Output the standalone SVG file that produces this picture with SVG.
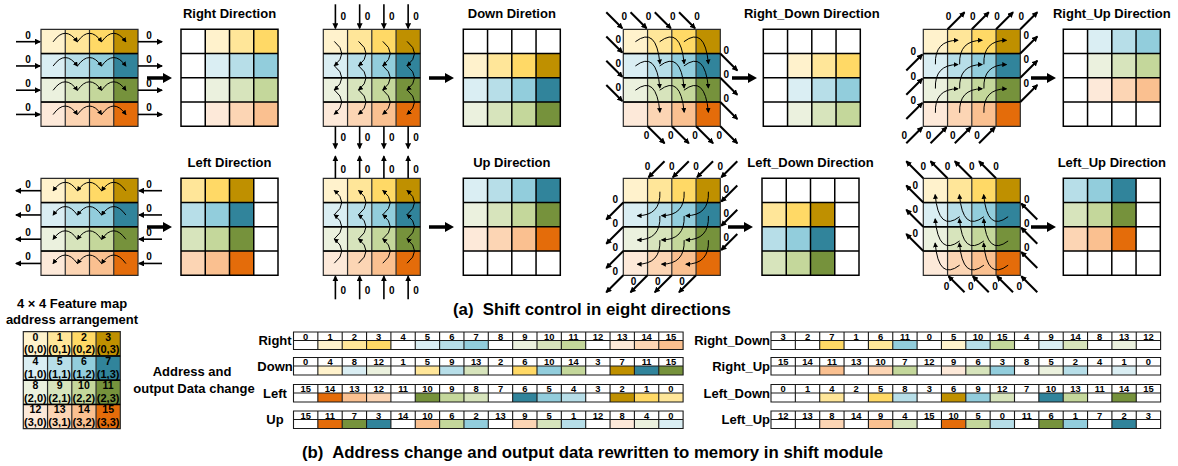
<svg xmlns="http://www.w3.org/2000/svg" width="1178" height="466" viewBox="0 0 1178 466">
<style>
text{font-family:"Liberation Sans",Arial,Helvetica,sans-serif;font-weight:bold;fill:#000}
.ttl{font-size:13px;text-anchor:middle}
.z{font-size:10px;text-anchor:middle}
.cap{font-size:16.8px;white-space:pre}
.tn{font-size:9.4px;text-anchor:middle}
.lb{font-size:13px;text-anchor:middle}
.lbr{font-size:13px;text-anchor:end}
.fn{font-size:10.5px;text-anchor:middle}
.fc{font-size:11px;text-anchor:middle}
.y0{fill:#FFF2CC}.y1{fill:#FFE699}.y2{fill:#FFD966}.y3{fill:#BF9000}
.b0{fill:#DAEEF3}.b1{fill:#B7DEE8}.b2{fill:#92CDDC}.b3{fill:#31849B}
.g0{fill:#EBF1DE}.g1{fill:#D7E4BC}.g2{fill:#C4D79B}.g3{fill:#76923C}
.o0{fill:#FDE9D9}.o1{fill:#FCD5B4}.o2{fill:#FAC090}.o3{fill:#E46C0A}
.gi{fill:none;stroke:#2b2b2b;stroke-width:1.2}
.gr{fill:none;stroke:#000;stroke-width:1.6}
.go{fill:none;stroke:#000;stroke-width:1.5}
.tf{fill:none;stroke:#1a1a1a;stroke-width:1.1}
.arc{fill:none;stroke:#000;stroke-width:1;marker-end:url(#ma)}
.ln{fill:none;stroke:#000;stroke-width:1.6;marker-end:url(#mb)}
.dl{fill:none;stroke:#000;stroke-width:2;marker-end:url(#mb)}
</style>
<defs>
<marker id="ma" viewBox="0 0 6 6" refX="5" refY="3" markerWidth="5" markerHeight="5" markerUnits="userSpaceOnUse" orient="auto"><path d="M0 0L6 3L0 6z"/></marker>
<marker id="mb" viewBox="0 0 6 6" refX="5" refY="3" markerWidth="6" markerHeight="6" markerUnits="userSpaceOnUse" orient="auto"><path d="M0 0L6 3L0 6z"/></marker>
<rect id="u" width="24.25" height="24.25"/>
<rect id="tu" width="24.35" height="9"/>
<path id="gl" d="M0 0H97V97H0Z M24.25 0V97 M48.5 0V97 M72.75 0V97 M0 24.25H97 M0 48.5H97 M0 72.75H97"/>
<path id="rl" d="M0 24.25H97 M0 48.5H97 M0 72.75H97"/>
<path id="tf" d="M0 0H389.6V17.5H0Z M0 8.5H389.6 M24.35 0V17.5 M48.7 0V17.5 M73.05 0V17.5 M97.4 0V17.5 M121.75 0V17.5 M146.1 0V17.5 M170.45 0V17.5 M194.8 0V17.5 M219.15 0V17.5 M243.5 0V17.5 M267.85 0V17.5 M292.2 0V17.5 M316.55 0V17.5 M340.9 0V17.5 M365.25 0V17.5"/>
<g id="gin">
<use href="#u" class="y0"/><use href="#u" class="y1" x="24.25"/><use href="#u" class="y2" x="48.5"/><use href="#u" class="y3" x="72.75"/>
<use href="#u" class="b0" y="24.25"/><use href="#u" class="b1" x="24.25" y="24.25"/><use href="#u" class="b2" x="48.5" y="24.25"/><use href="#u" class="b3" x="72.75" y="24.25"/>
<use href="#u" class="g0" y="48.5"/><use href="#u" class="g1" x="24.25" y="48.5"/><use href="#u" class="g2" x="48.5" y="48.5"/><use href="#u" class="g3" x="72.75" y="48.5"/>
<use href="#u" class="o0" y="72.75"/><use href="#u" class="o1" x="24.25" y="72.75"/><use href="#u" class="o2" x="48.5" y="72.75"/><use href="#u" class="o3" x="72.75" y="72.75"/>
<use href="#gl" class="gi"/>
<use href="#rl" class="gr"/>
</g>
<g id="aR"><path d="M12.1 0Q24.2 -17 36.4 0"/><path d="M36.4 0Q48.5 -17 60.6 0"/><path d="M60.6 0Q72.7 -17 84.9 0"/></g>
<g id="aL"><path d="M36.4 0Q24.2 -17 12.1 0"/><path d="M60.6 0Q48.5 -17 36.4 0"/><path d="M84.9 0Q72.7 -17 60.6 0"/></g>
<g id="aD"><path d="M0 12.1Q15 24.2 0 36.4"/><path d="M0 36.4Q15 48.5 0 60.6"/><path d="M0 60.6Q15 72.7 0 84.9"/></g>
<g id="aU"><path d="M0 36.4Q15 24.2 0 12.1"/><path d="M0 60.6Q15 48.5 0 36.4"/><path d="M0 84.9Q15 72.7 0 60.6"/></g>
<path id="dRD" d="M0 0Q21 -16 24.5 22"/>
<path id="dRU" d="M0 0Q-1 -24 22.5 -24"/>
<path id="dLD" d="M0 0Q1 24 -22.5 24"/>
<path id="dLU" d="M0 0Q-21 16 -24.5 -22"/>
<path id="big" d="M0 -1.7H16V-5L25 0L16 5V1.7H0Z"/>
</defs>
<rect width="1178" height="466" fill="#fff"/>

<!-- input grids -->
<g id="in-right" transform="translate(41,29.3)"><use href="#gin"/></g>
<g id="in-down" transform="translate(323.3,29.3)"><use href="#gin"/></g>
<g id="in-right-down" transform="translate(623.3,29.3)"><use href="#gin"/></g>
<g id="in-right-up" transform="translate(923.3,29.3)"><use href="#gin"/></g>
<g id="in-left" transform="translate(41,178.3)"><use href="#gin"/></g>
<g id="in-up" transform="translate(323.3,178.3)"><use href="#gin"/></g>
<g id="in-left-down" transform="translate(623.3,178.3)"><use href="#gin"/></g>
<g id="in-left-up" transform="translate(923.3,178.3)"><use href="#gin"/></g>

<!-- output grids -->
<g id="out-right" transform="translate(181,29.3)">
<text class="ttl" x="48.5" y="-11.8">Right Direction</text>
<rect width="97" height="97" fill="#fff"/>
<use href="#u" class="y0" x="24.25"/><use href="#u" class="y1" x="48.5"/><use href="#u" class="y2" x="72.75"/>
<use href="#u" class="b0" x="24.25" y="24.25"/><use href="#u" class="b1" x="48.5" y="24.25"/><use href="#u" class="b2" x="72.75" y="24.25"/>
<use href="#u" class="g0" x="24.25" y="48.5"/><use href="#u" class="g1" x="48.5" y="48.5"/><use href="#u" class="g2" x="72.75" y="48.5"/>
<use href="#u" class="o0" x="24.25" y="72.75"/><use href="#u" class="o1" x="48.5" y="72.75"/><use href="#u" class="o2" x="72.75" y="72.75"/>
<use href="#gl" class="go"/>
</g>
<g id="out-down" transform="translate(463.3,29.3)">
<text class="ttl" x="48.5" y="-11.8">Down Diretion</text>
<rect width="97" height="97" fill="#fff"/>
<use href="#u" class="y0" y="24.25"/><use href="#u" class="y1" x="24.25" y="24.25"/><use href="#u" class="y2" x="48.5" y="24.25"/><use href="#u" class="y3" x="72.75" y="24.25"/>
<use href="#u" class="b0" y="48.5"/><use href="#u" class="b1" x="24.25" y="48.5"/><use href="#u" class="b2" x="48.5" y="48.5"/><use href="#u" class="b3" x="72.75" y="48.5"/>
<use href="#u" class="g0" y="72.75"/><use href="#u" class="g1" x="24.25" y="72.75"/><use href="#u" class="g2" x="48.5" y="72.75"/><use href="#u" class="g3" x="72.75" y="72.75"/>
<use href="#gl" class="go"/>
</g>
<g id="out-right-down" transform="translate(763.3,29.3)">
<text class="ttl" x="48.5" y="-11.8">Right_Down Direction</text>
<rect width="97" height="97" fill="#fff"/>
<use href="#u" class="y0" x="24.25" y="24.25"/><use href="#u" class="y1" x="48.5" y="24.25"/><use href="#u" class="y2" x="72.75" y="24.25"/>
<use href="#u" class="b0" x="24.25" y="48.5"/><use href="#u" class="b1" x="48.5" y="48.5"/><use href="#u" class="b2" x="72.75" y="48.5"/>
<use href="#u" class="g0" x="24.25" y="72.75"/><use href="#u" class="g1" x="48.5" y="72.75"/><use href="#u" class="g2" x="72.75" y="72.75"/>
<use href="#gl" class="go"/>
</g>
<g id="out-right-up" transform="translate(1063.3,29.3)">
<text class="ttl" x="48.5" y="-11.8">Right_Up Direction</text>
<rect width="97" height="97" fill="#fff"/>
<use href="#u" class="b0" x="24.25"/><use href="#u" class="b1" x="48.5"/><use href="#u" class="b2" x="72.75"/>
<use href="#u" class="g0" x="24.25" y="24.25"/><use href="#u" class="g1" x="48.5" y="24.25"/><use href="#u" class="g2" x="72.75" y="24.25"/>
<use href="#u" class="o0" x="24.25" y="48.5"/><use href="#u" class="o1" x="48.5" y="48.5"/><use href="#u" class="o2" x="72.75" y="48.5"/>
<use href="#gl" class="go"/>
</g>
<g id="out-left" transform="translate(181,178.3)">
<text class="ttl" x="48.5" y="-11">Left Direction</text>
<rect width="97" height="97" fill="#fff"/>
<use href="#u" class="y1"/><use href="#u" class="y2" x="24.25"/><use href="#u" class="y3" x="48.5"/>
<use href="#u" class="b1" y="24.25"/><use href="#u" class="b2" x="24.25" y="24.25"/><use href="#u" class="b3" x="48.5" y="24.25"/>
<use href="#u" class="g1" y="48.5"/><use href="#u" class="g2" x="24.25" y="48.5"/><use href="#u" class="g3" x="48.5" y="48.5"/>
<use href="#u" class="o1" y="72.75"/><use href="#u" class="o2" x="24.25" y="72.75"/><use href="#u" class="o3" x="48.5" y="72.75"/>
<use href="#gl" class="go"/>
</g>
<g id="out-up" transform="translate(463.3,178.3)">
<text class="ttl" x="48.5" y="-11">Up Direction</text>
<rect width="97" height="97" fill="#fff"/>
<use href="#u" class="b0"/><use href="#u" class="b1" x="24.25"/><use href="#u" class="b2" x="48.5"/><use href="#u" class="b3" x="72.75"/>
<use href="#u" class="g0" y="24.25"/><use href="#u" class="g1" x="24.25" y="24.25"/><use href="#u" class="g2" x="48.5" y="24.25"/><use href="#u" class="g3" x="72.75" y="24.25"/>
<use href="#u" class="o0" y="48.5"/><use href="#u" class="o1" x="24.25" y="48.5"/><use href="#u" class="o2" x="48.5" y="48.5"/><use href="#u" class="o3" x="72.75" y="48.5"/>
<use href="#gl" class="go"/>
</g>
<g id="out-left-down" transform="translate(762,178.3)">
<text class="ttl" x="48.5" y="-11">Left_Down Direction</text>
<rect width="97" height="97" fill="#fff"/>
<use href="#u" class="y1" y="24.25"/><use href="#u" class="y2" x="24.25" y="24.25"/><use href="#u" class="y3" x="48.5" y="24.25"/>
<use href="#u" class="b1" y="48.5"/><use href="#u" class="b2" x="24.25" y="48.5"/><use href="#u" class="b3" x="48.5" y="48.5"/>
<use href="#u" class="g1" y="72.75"/><use href="#u" class="g2" x="24.25" y="72.75"/><use href="#u" class="g3" x="48.5" y="72.75"/>
<use href="#gl" class="go"/>
</g>
<g id="out-left-up" transform="translate(1063.3,178.3)">
<text class="ttl" x="48.5" y="-11">Left_Up Direction</text>
<rect width="97" height="97" fill="#fff"/>
<use href="#u" class="b1"/><use href="#u" class="b2" x="24.25"/><use href="#u" class="b3" x="48.5"/>
<use href="#u" class="g1" y="24.25"/><use href="#u" class="g2" x="24.25" y="24.25"/><use href="#u" class="g3" x="48.5" y="24.25"/>
<use href="#u" class="o1" y="48.5"/><use href="#u" class="o2" x="24.25" y="48.5"/><use href="#u" class="o3" x="48.5" y="48.5"/>
<use href="#gl" class="go"/>
</g>

<!-- connectors -->
<g id="connectors">
<g transform="translate(41,29.3)">
<g class="arc"><use href="#aR" y="12.5"/><use href="#aR" y="36.75"/><use href="#aR" y="61"/><use href="#aR" y="85.25"/></g>
<g class="ln"><path d="M-25 12.4H-1"/><path d="M-25 36.65H-1"/><path d="M-25 60.9H-1"/><path d="M-25 85.15H-1"/><path d="M97 12.4H121"/><path d="M97 36.65H121"/><path d="M97 60.9H121"/><path d="M97 85.15H121"/></g>
<text class="z"><tspan x="-13" y="9.4">0</tspan><tspan x="-13" y="33.65">0</tspan><tspan x="-13" y="57.9">0</tspan><tspan x="-13" y="82.15">0</tspan><tspan x="108" y="9.4">0</tspan><tspan x="108" y="33.65">0</tspan><tspan x="108" y="57.9">0</tspan><tspan x="108" y="82.15">0</tspan></text>
</g>
<g transform="translate(41,178.3)">
<g class="arc"><use href="#aL" y="12.5"/><use href="#aL" y="36.75"/><use href="#aL" y="61"/><use href="#aL" y="85.25"/></g>
<g class="ln"><path d="M121 12.4H98"/><path d="M121 36.65H98"/><path d="M121 60.9H98"/><path d="M121 85.15H98"/><path d="M0 12.4H-25"/><path d="M0 36.65H-25"/><path d="M0 60.9H-25"/><path d="M0 85.15H-25"/></g>
<text class="z"><tspan x="-13" y="9.4">0</tspan><tspan x="-13" y="33.65">0</tspan><tspan x="-13" y="57.9">0</tspan><tspan x="-13" y="82.15">0</tspan><tspan x="108" y="9.4">0</tspan><tspan x="108" y="33.65">0</tspan><tspan x="108" y="57.9">0</tspan><tspan x="108" y="82.15">0</tspan></text>
</g>
<g transform="translate(323.3,29.3)">
<g class="arc"><use href="#aD" x="11"/><use href="#aD" x="35.25"/><use href="#aD" x="59.5"/><use href="#aD" x="83.75"/></g>
<g class="ln"><path d="M12.1 -25V-1"/><path d="M36.35 -25V-1"/><path d="M60.6 -25V-1"/><path d="M84.85 -25V-1"/><path d="M12.1 97V119"/><path d="M36.35 97V119"/><path d="M60.6 97V119"/><path d="M84.85 97V119"/></g>
<text class="z"><tspan x="20.1" y="-9.5">0</tspan><tspan x="44.35" y="-9.5">0</tspan><tspan x="68.6" y="-9.5">0</tspan><tspan x="92.85" y="-9.5">0</tspan><tspan x="20.1" y="111.5">0</tspan><tspan x="44.35" y="111.5">0</tspan><tspan x="68.6" y="111.5">0</tspan><tspan x="92.85" y="111.5">0</tspan></text>
</g>
<g transform="translate(323.3,178.3)">
<g class="arc"><use href="#aU" x="11"/><use href="#aU" x="35.25"/><use href="#aU" x="59.5"/><use href="#aU" x="83.75"/></g>
<g class="ln"><path d="M12.1 0V-22"/><path d="M36.35 0V-22"/><path d="M60.6 0V-22"/><path d="M84.85 0V-22"/><path d="M12.1 121V98"/><path d="M36.35 121V98"/><path d="M60.6 121V98"/><path d="M84.85 121V98"/></g>
<text class="z"><tspan x="20.1" y="-5.5">0</tspan><tspan x="44.35" y="-5.5">0</tspan><tspan x="68.6" y="-5.5">0</tspan><tspan x="92.85" y="-5.5">0</tspan><tspan x="20.1" y="115.5">0</tspan><tspan x="44.35" y="115.5">0</tspan><tspan x="68.6" y="115.5">0</tspan><tspan x="92.85" y="115.5">0</tspan></text>
</g>
<g transform="translate(623.3,29.3)">
<g class="arc"><use href="#dRD" x="12.1" y="12.4"/><use href="#dRD" x="36.35" y="12.4"/><use href="#dRD" x="60.6" y="12.4"/><use href="#dRD" x="12.1" y="36.65"/><use href="#dRD" x="36.35" y="36.65"/><use href="#dRD" x="60.6" y="36.65"/><use href="#dRD" x="12.1" y="60.9"/><use href="#dRD" x="36.35" y="60.9"/><use href="#dRD" x="60.6" y="60.9"/></g>
<g class="dl"><path d="M-17 -17L-1 -1"/><path d="M7.25 -17L23.25 -1"/><path d="M31.5 -17L47.5 -1"/><path d="M55.75 -17L71.75 -1"/><path d="M-17 7.25L-1 23.25"/><path d="M-17 31.5L-1 47.5"/><path d="M-17 55.75L-1 71.75"/><path d="M97 24.25L114 41.25"/><path d="M97 48.5L114 65.5"/><path d="M97 72.75L114 89.75"/><path d="M24.25 97L41.25 114"/><path d="M48.5 97L65.5 114"/><path d="M72.75 97L89.75 114"/><path d="M97 97L114 114"/></g>
<text class="z"><tspan x="1" y="-9.5">0</tspan><tspan x="25.25" y="-9.5">0</tspan><tspan x="49.5" y="-9.5">0</tspan><tspan x="73.75" y="-9.5">0</tspan><tspan x="-5" y="13.25">0</tspan><tspan x="-5" y="37.5">0</tspan><tspan x="-5" y="61.75">0</tspan><tspan x="103" y="24.5">0</tspan><tspan x="103" y="48.75">0</tspan><tspan x="103" y="73">0</tspan><tspan x="23.25" y="109.5">0</tspan><tspan x="47.5" y="109.5">0</tspan><tspan x="71.75" y="109.5">0</tspan><tspan x="96" y="109.5">0</tspan></text>
</g>
<g transform="translate(923.3,29.3)">
<g class="arc"><use href="#dRU" x="12.1" y="35"/><use href="#dRU" x="36.35" y="35"/><use href="#dRU" x="60.6" y="35"/><use href="#dRU" x="12.1" y="59.25"/><use href="#dRU" x="36.35" y="59.25"/><use href="#dRU" x="60.6" y="59.25"/><use href="#dRU" x="12.1" y="83.5"/><use href="#dRU" x="36.35" y="83.5"/><use href="#dRU" x="60.6" y="83.5"/></g>
<g class="dl"><path d="M-17 114L-1 98"/><path d="M7.25 114L23.25 98"/><path d="M31.5 114L47.5 98"/><path d="M55.75 114L71.75 98"/><path d="M-17 41.25L-1 25.25"/><path d="M-17 65.5L-1 49.5"/><path d="M-17 89.75L-1 73.75"/><path d="M24.25 0L41.25 -17"/><path d="M48.5 0L65.5 -17"/><path d="M72.75 0L89.75 -17"/><path d="M97 0L114 -17"/><path d="M97 24.25L114 7.25"/><path d="M97 48.5L114 31.5"/><path d="M97 72.75L114 55.75"/></g>
<text class="z"><tspan x="-19" y="109.5">0</tspan><tspan x="5.25" y="109.5">0</tspan><tspan x="29.5" y="109.5">0</tspan><tspan x="53.75" y="109.5">0</tspan><tspan x="-10" y="26">0</tspan><tspan x="-10" y="50.25">0</tspan><tspan x="-10" y="74.5">0</tspan><tspan x="25.25" y="-9.5">0</tspan><tspan x="49.5" y="-9.5">0</tspan><tspan x="73.75" y="-9.5">0</tspan><tspan x="98" y="-9.5">0</tspan><tspan x="103" y="9.25">0</tspan><tspan x="103" y="33.5">0</tspan><tspan x="103" y="57.75">0</tspan></text>
</g>
<g transform="translate(623.3,178.3)">
<g class="arc"><use href="#dLD" x="36.6" y="13.4"/><use href="#dLD" x="60.85" y="13.4"/><use href="#dLD" x="85.1" y="13.4"/><use href="#dLD" x="36.6" y="37.65"/><use href="#dLD" x="60.85" y="37.65"/><use href="#dLD" x="85.1" y="37.65"/><use href="#dLD" x="36.6" y="61.9"/><use href="#dLD" x="60.85" y="61.9"/><use href="#dLD" x="85.1" y="61.9"/></g>
<g class="dl"><path d="M41.25 -17L25.25 -1"/><path d="M65.5 -17L49.5 -1"/><path d="M89.75 -17L73.75 -1"/><path d="M114 -17L98 -1"/><path d="M114 7.25L98 23.25"/><path d="M114 31.5L98 47.5"/><path d="M114 55.75L98 71.75"/><path d="M0 24.25L-17 41.25"/><path d="M0 48.5L-17 65.5"/><path d="M0 72.75L-17 89.75"/><path d="M0 97L-17 114"/><path d="M24.25 97L7.25 114"/><path d="M48.5 97L31.5 114"/><path d="M72.75 97L55.75 114"/></g>
<text class="z"><tspan x="24.25" y="-8">0</tspan><tspan x="48.5" y="-8">0</tspan><tspan x="72.75" y="-8">0</tspan><tspan x="97" y="-8">0</tspan><tspan x="103" y="14.25">0</tspan><tspan x="103" y="38.5">0</tspan><tspan x="103" y="62.75">0</tspan><tspan x="-8" y="24.25">0</tspan><tspan x="-8" y="48.5">0</tspan><tspan x="-8" y="72.75">0</tspan><tspan x="-8" y="97">0</tspan><tspan x="10.25" y="107">0</tspan><tspan x="34.5" y="107">0</tspan><tspan x="58.75" y="107">0</tspan></text>
</g>
<g transform="translate(923.3,178.3)">
<g class="arc"><use href="#dLU" x="36.35" y="38.4"/><use href="#dLU" x="60.6" y="38.4"/><use href="#dLU" x="84.85" y="38.4"/><use href="#dLU" x="36.35" y="62.65"/><use href="#dLU" x="60.6" y="62.65"/><use href="#dLU" x="84.85" y="62.65"/><use href="#dLU" x="36.35" y="86.9"/><use href="#dLU" x="60.6" y="86.9"/><use href="#dLU" x="84.85" y="86.9"/></g>
<g class="dl"><path d="M41.25 114L25.25 98"/><path d="M65.5 114L49.5 98"/><path d="M89.75 114L73.75 98"/><path d="M114 114L98 98"/><path d="M114 41.25L98 25.25"/><path d="M114 65.5L98 49.5"/><path d="M114 89.75L98 73.75"/><path d="M0 0L-17 -17"/><path d="M24.25 0L7.25 -17"/><path d="M48.5 0L31.5 -17"/><path d="M72.75 0L55.75 -17"/><path d="M0 24.25L-17 7.25"/><path d="M0 48.5L-17 31.5"/><path d="M0 72.75L-17 55.75"/></g>
<text class="z"><tspan x="23.25" y="112">0</tspan><tspan x="47.5" y="112">0</tspan><tspan x="71.75" y="112">0</tspan><tspan x="96" y="112">0</tspan><tspan x="103.4" y="24.25">0</tspan><tspan x="103.4" y="48.5">0</tspan><tspan x="103.4" y="72.75">0</tspan><tspan x="0" y="-8">0</tspan><tspan x="24.25" y="-8">0</tspan><tspan x="48.5" y="-8">0</tspan><tspan x="72.75" y="-8">0</tspan><tspan x="-8" y="10.25">0</tspan><tspan x="-8" y="34.5">0</tspan><tspan x="-8" y="58.75">0</tspan></text>
</g>
<use href="#big" x="147" y="78"/><use href="#big" x="429" y="78"/><use href="#big" x="732" y="78"/><use href="#big" x="1031" y="78"/>
<use href="#big" x="147" y="227"/><use href="#big" x="429" y="227"/><use href="#big" x="728" y="227"/><use href="#big" x="1031" y="227"/>
</g>

<text id="caption-a" class="cap" x="453" y="315">(a)  Shift control in eight directions</text>

<!-- feature map -->
<g id="feature-map">
<text class="lb" x="72" y="308">4 × 4 Feature map</text>
<text class="lb" x="72" y="324">address arrangement</text>
<g transform="translate(23.3,331.7)">
<use href="#gin"/>
<text class="fn"><tspan x="12.1" y="9">0</tspan><tspan x="36.35" y="9">1</tspan><tspan x="60.6" y="9">2</tspan><tspan x="84.85" y="9">3</tspan><tspan x="12.1" y="33.25">4</tspan><tspan x="36.35" y="33.25">5</tspan><tspan x="60.6" y="33.25">6</tspan><tspan x="84.85" y="33.25">7</tspan><tspan x="12.1" y="57.5">8</tspan><tspan x="36.35" y="57.5">9</tspan><tspan x="60.6" y="57.5">10</tspan><tspan x="84.85" y="57.5">11</tspan><tspan x="12.1" y="81.75">12</tspan><tspan x="36.35" y="81.75">13</tspan><tspan x="60.6" y="81.75">14</tspan><tspan x="84.85" y="81.75">15</tspan></text>
<text class="fc"><tspan x="12.1" y="21.8">(0,0)</tspan><tspan x="36.35" y="21.8">(0,1)</tspan><tspan x="60.6" y="21.8">(0,2)</tspan><tspan x="84.85" y="21.8">(0,3)</tspan><tspan x="12.1" y="46.05">(1,0)</tspan><tspan x="36.35" y="46.05">(1,1)</tspan><tspan x="60.6" y="46.05">(1,2)</tspan><tspan x="84.85" y="46.05">(1,3)</tspan><tspan x="12.1" y="70.3">(2,0)</tspan><tspan x="36.35" y="70.3">(2,1)</tspan><tspan x="60.6" y="70.3">(2,2)</tspan><tspan x="84.85" y="70.3">(2,3)</tspan><tspan x="12.1" y="94.55">(3,0)</tspan><tspan x="36.35" y="94.55">(3,1)</tspan><tspan x="60.6" y="94.55">(3,2)</tspan><tspan x="84.85" y="94.55">(3,3)</tspan></text>
</g>
</g>

<g id="address-label">
<text class="lb" x="192" y="376">Address and</text>
<text class="lb" x="194" y="393">output Data change</text>
</g>

<!-- tables -->
<g id="tbl-right">
<text class="lb" x="275" y="345.4">Right</text>
<g transform="translate(293.5,332)">
<rect width="389.6" height="17.5" fill="#fff"/>
<use href="#tu" class="y0" x="24.35" y="8.5"/><use href="#tu" class="y1" x="48.7" y="8.5"/><use href="#tu" class="y2" x="73.05" y="8.5"/><use href="#tu" class="b0" x="121.75" y="8.5"/><use href="#tu" class="b1" x="146.1" y="8.5"/><use href="#tu" class="b2" x="170.45" y="8.5"/><use href="#tu" class="g0" x="219.15" y="8.5"/><use href="#tu" class="g1" x="243.5" y="8.5"/><use href="#tu" class="g2" x="267.85" y="8.5"/><use href="#tu" class="o0" x="316.55" y="8.5"/><use href="#tu" class="o1" x="340.9" y="8.5"/><use href="#tu" class="o2" x="365.25" y="8.5"/>
<use href="#tf" class="tf"/>
<text class="tn" y="7.7"><tspan x="12.2">0</tspan><tspan x="36.5">1</tspan><tspan x="60.9">2</tspan><tspan x="85.2">3</tspan><tspan x="109.6">4</tspan><tspan x="133.9">5</tspan><tspan x="158.3">6</tspan><tspan x="182.6">7</tspan><tspan x="207">8</tspan><tspan x="231.3">9</tspan><tspan x="255.7">10</tspan><tspan x="280">11</tspan><tspan x="304.4">12</tspan><tspan x="328.7">13</tspan><tspan x="353.1">14</tspan><tspan x="377.4">15</tspan></text>
</g>
</g>
<g id="tbl-down">
<text class="lb" x="275" y="370.9">Down</text>
<g transform="translate(293.5,357.5)">
<rect width="389.6" height="17.5" fill="#fff"/>
<use href="#tu" class="y0" x="24.35" y="8.5"/><use href="#tu" class="b0" x="48.7" y="8.5"/><use href="#tu" class="g0" x="73.05" y="8.5"/><use href="#tu" class="y1" x="121.75" y="8.5"/><use href="#tu" class="b1" x="146.1" y="8.5"/><use href="#tu" class="g1" x="170.45" y="8.5"/><use href="#tu" class="y2" x="219.15" y="8.5"/><use href="#tu" class="b2" x="243.5" y="8.5"/><use href="#tu" class="g2" x="267.85" y="8.5"/><use href="#tu" class="y3" x="316.55" y="8.5"/><use href="#tu" class="b3" x="340.9" y="8.5"/><use href="#tu" class="g3" x="365.25" y="8.5"/>
<use href="#tf" class="tf"/>
<text class="tn" y="7.7"><tspan x="12.2">0</tspan><tspan x="36.5">4</tspan><tspan x="60.9">8</tspan><tspan x="85.2">12</tspan><tspan x="109.6">1</tspan><tspan x="133.9">5</tspan><tspan x="158.3">9</tspan><tspan x="182.6">13</tspan><tspan x="207">2</tspan><tspan x="231.3">6</tspan><tspan x="255.7">10</tspan><tspan x="280">14</tspan><tspan x="304.4">3</tspan><tspan x="328.7">7</tspan><tspan x="353.1">11</tspan><tspan x="377.4">15</tspan></text>
</g>
</g>
<g id="tbl-left">
<text class="lb" x="275" y="397.9">Left</text>
<g transform="translate(293.5,384.5)">
<rect width="389.6" height="17.5" fill="#fff"/>
<use href="#tu" class="o3" x="24.35" y="8.5"/><use href="#tu" class="o2" x="48.7" y="8.5"/><use href="#tu" class="o1" x="73.05" y="8.5"/><use href="#tu" class="g3" x="121.75" y="8.5"/><use href="#tu" class="g2" x="146.1" y="8.5"/><use href="#tu" class="g1" x="170.45" y="8.5"/><use href="#tu" class="b3" x="219.15" y="8.5"/><use href="#tu" class="b2" x="243.5" y="8.5"/><use href="#tu" class="b1" x="267.85" y="8.5"/><use href="#tu" class="y3" x="316.55" y="8.5"/><use href="#tu" class="y2" x="340.9" y="8.5"/><use href="#tu" class="y1" x="365.25" y="8.5"/>
<use href="#tf" class="tf"/>
<text class="tn" y="7.7"><tspan x="12.2">15</tspan><tspan x="36.5">14</tspan><tspan x="60.9">13</tspan><tspan x="85.2">12</tspan><tspan x="109.6">11</tspan><tspan x="133.9">10</tspan><tspan x="158.3">9</tspan><tspan x="182.6">8</tspan><tspan x="207">7</tspan><tspan x="231.3">6</tspan><tspan x="255.7">5</tspan><tspan x="280">4</tspan><tspan x="304.4">3</tspan><tspan x="328.7">2</tspan><tspan x="353.1">1</tspan><tspan x="377.4">0</tspan></text>
</g>
</g>
<g id="tbl-up">
<text class="lb" x="275" y="424.4">Up</text>
<g transform="translate(293.5,411)">
<rect width="389.6" height="17.5" fill="#fff"/>
<use href="#tu" class="o3" x="24.35" y="8.5"/><use href="#tu" class="g3" x="48.7" y="8.5"/><use href="#tu" class="b3" x="73.05" y="8.5"/><use href="#tu" class="o2" x="121.75" y="8.5"/><use href="#tu" class="g2" x="146.1" y="8.5"/><use href="#tu" class="b2" x="170.45" y="8.5"/><use href="#tu" class="o1" x="219.15" y="8.5"/><use href="#tu" class="g1" x="243.5" y="8.5"/><use href="#tu" class="b1" x="267.85" y="8.5"/><use href="#tu" class="o0" x="316.55" y="8.5"/><use href="#tu" class="g0" x="340.9" y="8.5"/><use href="#tu" class="b0" x="365.25" y="8.5"/>
<use href="#tf" class="tf"/>
<text class="tn" y="7.7"><tspan x="12.2">15</tspan><tspan x="36.5">11</tspan><tspan x="60.9">7</tspan><tspan x="85.2">3</tspan><tspan x="109.6">14</tspan><tspan x="133.9">10</tspan><tspan x="158.3">6</tspan><tspan x="182.6">2</tspan><tspan x="207">13</tspan><tspan x="231.3">9</tspan><tspan x="255.7">5</tspan><tspan x="280">1</tspan><tspan x="304.4">12</tspan><tspan x="328.7">8</tspan><tspan x="353.1">4</tspan><tspan x="377.4">0</tspan></text>
</g>
</g>
<g id="tbl-right-down">
<text class="lbr" x="770" y="345.4">Right_Down</text>
<g transform="translate(771,332)">
<rect width="389.6" height="17.5" fill="#fff"/>
<use href="#tu" class="y2" x="48.7" y="8.5"/><use href="#tu" class="y1" x="97.4" y="8.5"/><use href="#tu" class="b2" x="121.75" y="8.5"/><use href="#tu" class="y0" x="170.45" y="8.5"/><use href="#tu" class="b1" x="194.8" y="8.5"/><use href="#tu" class="g2" x="219.15" y="8.5"/><use href="#tu" class="b0" x="267.85" y="8.5"/><use href="#tu" class="g1" x="292.2" y="8.5"/><use href="#tu" class="g0" x="340.9" y="8.5"/>
<use href="#tf" class="tf"/>
<text class="tn" y="7.7"><tspan x="12.2">3</tspan><tspan x="36.5">2</tspan><tspan x="60.9">7</tspan><tspan x="85.2">1</tspan><tspan x="109.6">6</tspan><tspan x="133.9">11</tspan><tspan x="158.3">0</tspan><tspan x="182.6">5</tspan><tspan x="207">10</tspan><tspan x="231.3">15</tspan><tspan x="255.7">4</tspan><tspan x="280">9</tspan><tspan x="304.4">14</tspan><tspan x="328.7">8</tspan><tspan x="353.1">13</tspan><tspan x="377.4">12</tspan></text>
</g>
</g>
<g id="tbl-right-up">
<text class="lbr" x="770" y="370.9">Right_Up</text>
<g transform="translate(771,357.5)">
<rect width="389.6" height="17.5" fill="#fff"/>
<use href="#tu" class="o2" x="48.7" y="8.5"/><use href="#tu" class="o1" x="97.4" y="8.5"/><use href="#tu" class="g2" x="121.75" y="8.5"/><use href="#tu" class="o0" x="170.45" y="8.5"/><use href="#tu" class="g1" x="194.8" y="8.5"/><use href="#tu" class="b2" x="219.15" y="8.5"/><use href="#tu" class="g0" x="267.85" y="8.5"/><use href="#tu" class="b1" x="292.2" y="8.5"/><use href="#tu" class="b0" x="340.9" y="8.5"/>
<use href="#tf" class="tf"/>
<text class="tn" y="7.7"><tspan x="12.2">15</tspan><tspan x="36.5">14</tspan><tspan x="60.9">11</tspan><tspan x="85.2">13</tspan><tspan x="109.6">10</tspan><tspan x="133.9">7</tspan><tspan x="158.3">12</tspan><tspan x="182.6">9</tspan><tspan x="207">6</tspan><tspan x="231.3">3</tspan><tspan x="255.7">8</tspan><tspan x="280">5</tspan><tspan x="304.4">2</tspan><tspan x="328.7">4</tspan><tspan x="353.1">1</tspan><tspan x="377.4">0</tspan></text>
</g>
</g>
<g id="tbl-left-down">
<text class="lbr" x="770" y="397.9">Left_Down</text>
<g transform="translate(771,384.5)">
<rect width="389.6" height="17.5" fill="#fff"/>
<use href="#tu" class="y1" x="48.7" y="8.5"/><use href="#tu" class="y2" x="97.4" y="8.5"/><use href="#tu" class="b1" x="121.75" y="8.5"/><use href="#tu" class="y3" x="170.45" y="8.5"/><use href="#tu" class="b2" x="194.8" y="8.5"/><use href="#tu" class="g1" x="219.15" y="8.5"/><use href="#tu" class="b3" x="267.85" y="8.5"/><use href="#tu" class="g2" x="292.2" y="8.5"/><use href="#tu" class="g3" x="340.9" y="8.5"/>
<use href="#tf" class="tf"/>
<text class="tn" y="7.7"><tspan x="12.2">0</tspan><tspan x="36.5">1</tspan><tspan x="60.9">4</tspan><tspan x="85.2">2</tspan><tspan x="109.6">5</tspan><tspan x="133.9">8</tspan><tspan x="158.3">3</tspan><tspan x="182.6">6</tspan><tspan x="207">9</tspan><tspan x="231.3">12</tspan><tspan x="255.7">7</tspan><tspan x="280">10</tspan><tspan x="304.4">13</tspan><tspan x="328.7">11</tspan><tspan x="353.1">14</tspan><tspan x="377.4">15</tspan></text>
</g>
</g>
<g id="tbl-left-up">
<text class="lbr" x="770" y="424.4">Left_Up</text>
<g transform="translate(771,411)">
<rect width="389.6" height="17.5" fill="#fff"/>
<use href="#tu" class="o1" x="48.7" y="8.5"/><use href="#tu" class="o2" x="97.4" y="8.5"/><use href="#tu" class="g1" x="121.75" y="8.5"/><use href="#tu" class="o3" x="170.45" y="8.5"/><use href="#tu" class="g2" x="194.8" y="8.5"/><use href="#tu" class="b1" x="219.15" y="8.5"/><use href="#tu" class="g3" x="267.85" y="8.5"/><use href="#tu" class="b2" x="292.2" y="8.5"/><use href="#tu" class="b3" x="340.9" y="8.5"/>
<use href="#tf" class="tf"/>
<text class="tn" y="7.7"><tspan x="12.2">12</tspan><tspan x="36.5">13</tspan><tspan x="60.9">8</tspan><tspan x="85.2">14</tspan><tspan x="109.6">9</tspan><tspan x="133.9">4</tspan><tspan x="158.3">15</tspan><tspan x="182.6">10</tspan><tspan x="207">5</tspan><tspan x="231.3">0</tspan><tspan x="255.7">11</tspan><tspan x="280">6</tspan><tspan x="304.4">1</tspan><tspan x="328.7">7</tspan><tspan x="353.1">2</tspan><tspan x="377.4">3</tspan></text>
</g>
</g>

<text id="caption-b" class="cap" x="302" y="458">(b)  Address change and output data rewritten to memory in shift module</text>
</svg>
